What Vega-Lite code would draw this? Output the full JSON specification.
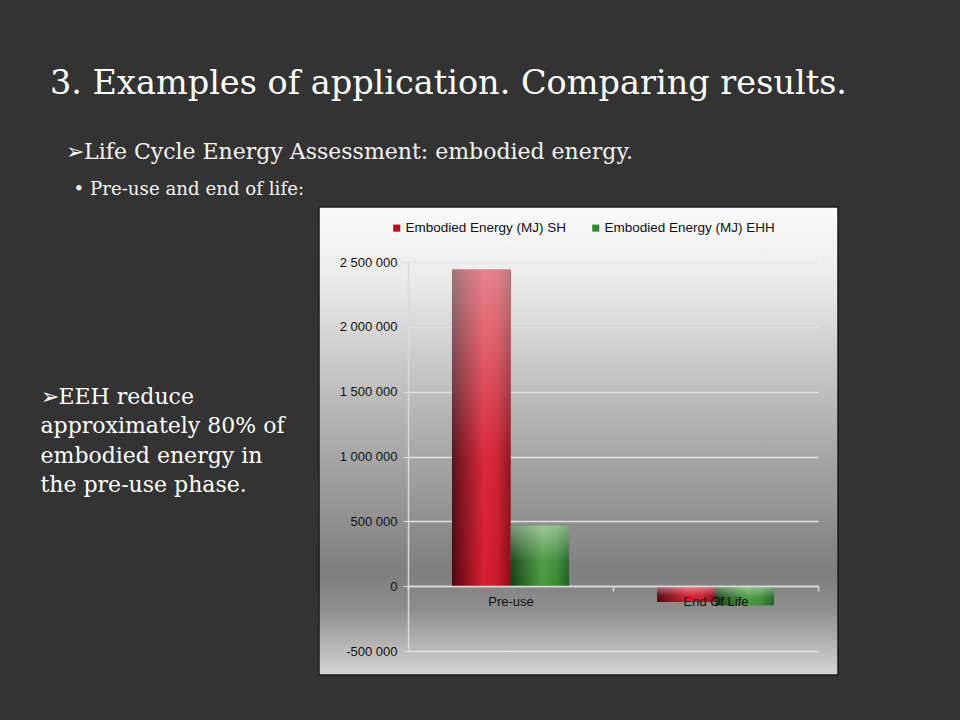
{
  "$schema": "https://vega.github.io/schema/vega-lite/v6.json",
  "autosize": {"type": "none"},
  "width": 519,
  "height": 468,
  "padding": {"left": 319, "top": 207, "right": 122, "bottom": 45},
  "background": "#333333",
  "title": {
    "text": "3. Examples of application. Comparing results.",
    "subtitle": "\u2800➢Life Cycle Energy Assessment: embodied energy.",
    "anchor": "start",
    "frame": "group",
    "dx": -269,
    "offset": 15,
    "font": "DejaVu Serif",
    "fontSize": 33.5,
    "fontWeight": "normal",
    "color": "#ffffff",
    "subtitleFont": "DejaVu Serif",
    "subtitleFontSize": 22,
    "subtitleColor": "#f4f4f4",
    "subtitlePadding": 41
  },
  "config": {
    "locale": {"number": {"decimal": ",", "thousands": " ", "grouping": [3], "currency": ["", ""], "minus": "-"}}
  },
  "data": {
    "values": [
      {"phase": "Pre-use", "series": "Embodied Energy (MJ) SH", "energy": 2440000},
      {"phase": "Pre-use", "series": "Embodied Energy (MJ) EHH", "energy": 470000},
      {"phase": "End Of Life", "series": "Embodied Energy (MJ) SH", "energy": -122000},
      {"phase": "End Of Life", "series": "Embodied Energy (MJ) EHH", "energy": -147000}
    ]
  },
  "view": {
    "fill": {
      "gradient": "linear", "x1": 0, "y1": 0, "x2": 0, "y2": 1,
      "stops": [
        {"offset": 0, "color": "#fbfbfb"},
        {"offset": 0.15, "color": "#ececec"},
        {"offset": 0.45, "color": "#b4b4b4"},
        {"offset": 0.78, "color": "#7e7e7e"},
        {"offset": 0.86, "color": "#8e8e8e"},
        {"offset": 1, "color": "#d6d6d6"}
      ]
    },
    "stroke": "#1c1c1c",
    "strokeWidth": 1.5
  },
  "encoding": {
    "x": {
      "field": "phase", "type": "nominal", "sort": ["Pre-use", "End Of Life"],
      "scale": {"range": [89, 499], "paddingInner": 0, "paddingOuter": 0},
      "axis": {
        "title": "• Pre-use and end of life:",
        "titleX": -246, "titleY": -392, "titleAlign": "left", "titleBaseline": "alphabetic",
        "titleAnchor": null,
        "titleFont": "DejaVu Serif", "titleFontSize": 18.2, "titleFontWeight": "normal", "titleColor": "#f4f4f4",
        "orient": "bottom", "offset": -89, "zindex": 1,
        "domainColor": "#dadada", "domainWidth": 1.5,
        "tickColor": "#dadada", "tickSize": 5, "tickWidth": 1.5, "tickBand": "extent",
        "labelFont": "Liberation Sans", "labelFontSize": 13, "labelColor": "#111111",
        "labelPadding": 4, "labelAngle": 0, "grid": false
      }
    },
    "xOffset": {
      "field": "series", "type": "nominal",
      "sort": ["Embodied Energy (MJ) SH", "Embodied Energy (MJ) EHH"],
      "scale": {"paddingInner": 0, "paddingOuter": 0.752}
    },
    "y": {
      "field": "energy", "type": "quantitative",
      "scale": {"domain": [-500000, 2500000], "range": [444, 55], "nice": false, "zero": false},
      "axis": {
        "title": ["➢EEH reduce", "approximately 80% of", "embodied energy in", "the pre-use phase."],
        "titleAngle": 0, "titleAlign": "left", "titleBaseline": "alphabetic",
        "titleX": -368, "titleY": 196,
        "titleFont": "DejaVu Serif", "titleFontSize": 22, "titleFontWeight": "normal",
        "titleColor": "#ffffff", "titleLineHeight": 29.5,
        "offset": -89,
        "values": [-500000, 0, 500000, 1000000, 1500000, 2000000, 2500000],
        "format": ",.0f",
        "labelFont": "Liberation Sans", "labelFontSize": 13, "labelColor": "#111111",
        "labelPadding": 6, "tickSize": 5, "tickColor": "#dadada",
        "domainColor": "#dadada", "domainWidth": 1.5,
        "grid": true, "gridColor": "#e2e2e2", "gridWidth": 1.5
      }
    }
  },
  "layer": [
    {
      "mark": {"type": "bar"},
      "encoding": {
        "color": {
          "field": "series", "type": "nominal",
          "sort": ["Embodied Energy (MJ) SH", "Embodied Energy (MJ) EHH"],
          "scale": {"domain": ["Embodied Energy (MJ) SH", "Embodied Energy (MJ) EHH"], "range": ["#b5121f", "#2f8a2c"]},
          "legend": {
            "title": null, "orient": "none", "legendX": 71, "legendY": 14,
            "direction": "horizontal", "symbolType": "square", "symbolSize": 50,
            "labelFont": "Liberation Sans", "labelFontSize": 13.5, "labelColor": "#111111",
            "labelLimit": 300, "labelOffset": 2, "columnPadding": 22
          }
        }
      }
    },
    {
      "transform": [{"filter": "datum.series === 'Embodied Energy (MJ) SH'"}],
      "mark": {
        "type": "bar",
        "fill": {
          "gradient": "linear", "x1": 0, "y1": 0, "x2": 1, "y2": 0,
          "stops": [
            {"offset": 0, "color": "#4a0810"},
            {"offset": 0.15, "color": "#7a0c18"},
            {"offset": 0.55, "color": "#d81e30"},
            {"offset": 0.78, "color": "#c81a2a"},
            {"offset": 1, "color": "#8a0c18"}
          ]
        }
      }
    },
    {
      "transform": [{"filter": "datum.series === 'Embodied Energy (MJ) EHH'"}],
      "mark": {
        "type": "bar",
        "fill": {
          "gradient": "linear", "x1": 0, "y1": 0, "x2": 1, "y2": 0,
          "stops": [
            {"offset": 0, "color": "#123a12"},
            {"offset": 0.15, "color": "#225a20"},
            {"offset": 0.55, "color": "#4a9a40"},
            {"offset": 0.78, "color": "#3a8a34"},
            {"offset": 1, "color": "#206020"}
          ]
        }
      }
    },
    {
      "mark": {
        "type": "bar",
        "fill": {
          "gradient": "linear", "x1": 0, "y1": 0, "x2": 0, "y2": 1,
          "stops": [
            {"offset": 0, "color": "rgba(255,255,255,0.45)"},
            {"offset": 0.6, "color": "rgba(255,255,255,0.05)"},
            {"offset": 1, "color": "rgba(255,255,255,0)"}
          ]
        }
      }
    }
  ]
}
